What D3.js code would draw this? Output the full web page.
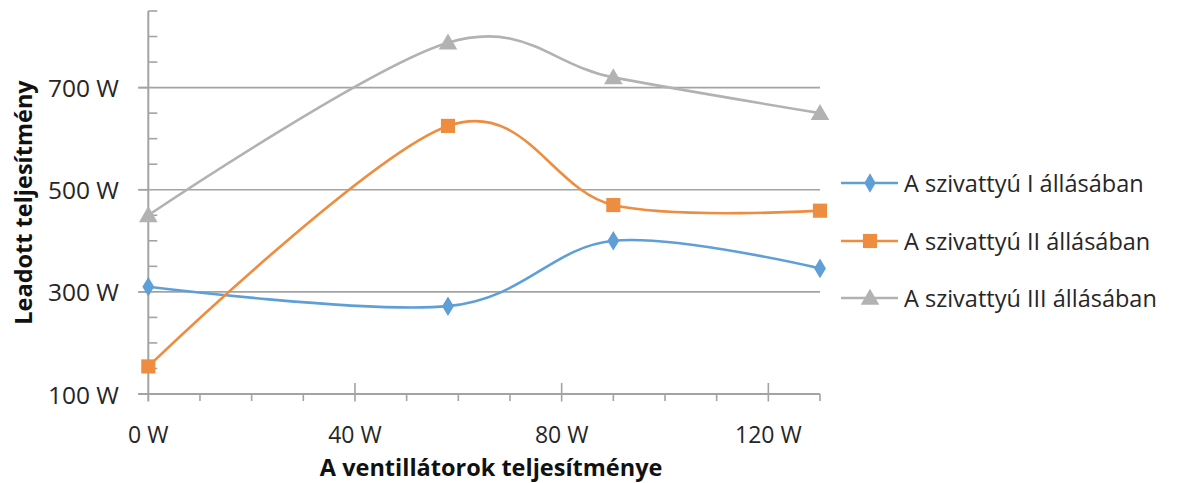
<!DOCTYPE html>
<html>
<head>
<meta charset="utf-8">
<script src="https://cdn.jsdelivr.net/npm/d3@7"></script>
<style>
  html, body { margin: 0; padding: 0; background: #fff; }
  svg { display: block; }
  text { font-family: "Open Sans", Lato, sans-serif; fill: #262626; }
</style>
</head>
<body>
<svg id="chart" width="1185" height="483"></svg>
<script>
// Fan power (W) at each measurement
const fanPower = [0, 58, 90, 130];

// Output power (W) for each pump position
const pumpI   = [310, 272, 400, 346];
const pumpII  = [154, 625, 470, 459];
const pumpIII = [450, 788, 720, 650];

const seriesNames = [
  "A szivattyú I állásában",
  "A szivattyú II állásában",
  "A szivattyú III állásában"
];

const xTickValues = [0, 40, 80, 120];
const yTickValues = [100, 300, 500, 700];

const xTitle = "A ventillátorok teljesítménye";
const yTitle = "Leadott teljesítmény";

const colors = ["#5f9fd7", "#ee8d40", "#b2b2b2"];
const markerShapes = [d3.symbolDiamond, d3.symbolSquare, d3.symbolTriangle];
const markerSizes = [110, 200, 150];

const svg = d3.select("#chart");
const plotLeft = 148.3, plotRight = 820, plotTop = 11, plotBottom = 394;

const x = d3.scaleLinear().domain([0, 130]).range([plotLeft, plotRight]);
const y = d3.scaleLinear().domain([100, 850]).range([plotBottom, plotTop]);

const axisColor = "#a3a3a3";

// Horizontal gridlines
svg.append("g")
  .selectAll("line")
  .data(yTickValues.filter(v => v > 100))
  .join("line")
  .attr("x1", plotLeft - 10).attr("x2", plotRight)
  .attr("y1", d => y(d)).attr("y2", d => y(d))
  .attr("stroke", axisColor).attr("stroke-width", 1.6);

// Y axis: minor ticks inside every 50 W, major ticks outside
const yMinor = d3.range(150, 851, 50).filter(v => !yTickValues.includes(v));
svg.append("g").selectAll("line")
  .data(yMinor)
  .join("line")
  .attr("x1", plotLeft).attr("x2", plotLeft + 9)
  .attr("y1", d => y(d)).attr("y2", d => y(d))
  .attr("stroke", axisColor).attr("stroke-width", 1.6);

svg.append("g").selectAll("line")
  .data(yTickValues)
  .join("line")
  .attr("x1", plotLeft - 10).attr("x2", plotLeft)
  .attr("y1", d => y(d)).attr("y2", d => y(d))
  .attr("stroke", axisColor).attr("stroke-width", 1.6);

svg.append("line")
  .attr("x1", plotLeft).attr("x2", plotLeft)
  .attr("y1", y(850)).attr("y2", plotBottom + 7.5)
  .attr("stroke", axisColor).attr("stroke-width", 2);

// X axis line and ticks
svg.append("line")
  .attr("x1", plotLeft - 10).attr("x2", plotRight)
  .attr("y1", plotBottom).attr("y2", plotBottom)
  .attr("stroke", axisColor).attr("stroke-width", 2);

const xMinor = d3.range(10, 131, 10).filter(v => !xTickValues.includes(v));
svg.append("g").selectAll("line")
  .data(xMinor)
  .join("line")
  .attr("x1", d => x(d)).attr("x2", d => x(d))
  .attr("y1", plotBottom).attr("y2", plotBottom + 7)
  .attr("stroke", axisColor).attr("stroke-width", 1.6);

svg.append("g").selectAll("line")
  .data(xTickValues.filter(v => v > 0))
  .join("line")
  .attr("x1", d => x(d)).attr("x2", d => x(d))
  .attr("y1", plotBottom - 11).attr("y2", plotBottom + 7.5)
  .attr("stroke", axisColor).attr("stroke-width", 1.6);

// Tick labels
svg.append("g").selectAll("text")
  .data(yTickValues)
  .join("text")
  .attr("x", 119).attr("y", d => y(d))
  .attr("text-anchor", "end").attr("dominant-baseline", "central")
  .style("font-size", "24.5px")
  .text(d => d + " W");

svg.append("g").selectAll("text")
  .data(xTickValues)
  .join("text")
  .attr("x", d => x(d)).attr("y", 433.5)
  .attr("text-anchor", "middle").attr("dominant-baseline", "central")
  .style("font-size", "23px")
  .text(d => d + " W");

// Axis titles
svg.append("text")
  .attr("x", (plotLeft + plotRight) / 2 + 7).attr("y", 466.5)
  .attr("text-anchor", "middle").attr("dominant-baseline", "central")
  .style("font-size", "23.5px").style("font-weight", "bold").style("fill", "#111")
  .text(xTitle);

svg.append("text")
  .attr("transform", `translate(23, ${(80 + 325) / 2}) rotate(-90)`)
  .attr("text-anchor", "middle").attr("dominant-baseline", "central")
  .style("font-size", "23.5px").style("font-weight", "bold").style("fill", "#111")
  .text(yTitle);

// Smoothed series lines with markers
const series = [pumpI, pumpII, pumpIII];
const line = d3.line()
  .x((d, i) => x(fanPower[i]))
  .y(d => y(d))
  .curve(d3.curveCardinal.tension(0));

const markerGen = (i) => d3.symbol().type(markerShapes[i]).size(markerSizes[i]);

series.forEach((vals, i) => {
  svg.append("path")
    .datum(vals)
    .attr("d", line)
    .attr("fill", "none")
    .attr("stroke", colors[i])
    .attr("stroke-width", 2.6);
});

series.forEach((vals, i) => {
  svg.append("g").selectAll("path")
    .data(vals)
    .join("path")
    .attr("transform", (d, j) => {
      const dy = markerShapes[i] === d3.symbolTriangle ? 1.5 : 0;
      return `translate(${x(fanPower[j])},${y(d) + dy})` + (markerShapes[i] === d3.symbolDiamond ? " scale(1.05,1)" : "");
    })
    .attr("d", markerGen(i)())
    .attr("fill", colors[i]);
});

// Legend
const legendY = [183, 241, 298];
const legend = svg.append("g");
seriesNames.forEach((name, i) => {
  legend.append("line")
    .attr("x1", 841).attr("x2", 898)
    .attr("y1", legendY[i]).attr("y2", legendY[i])
    .attr("stroke", colors[i]).attr("stroke-width", 2.6);
  legend.append("path")
    .attr("transform", `translate(870,${legendY[i] + (i === 2 ? 1.5 : 0)})`)
    .attr("d", markerGen(i)())
    .attr("fill", colors[i]);
  legend.append("text")
    .attr("x", 904).attr("y", legendY[i])
    .attr("dominant-baseline", "central")
    .style("font-size", "23.5px")
    .text(name);
});
</script>
</body>
</html>
